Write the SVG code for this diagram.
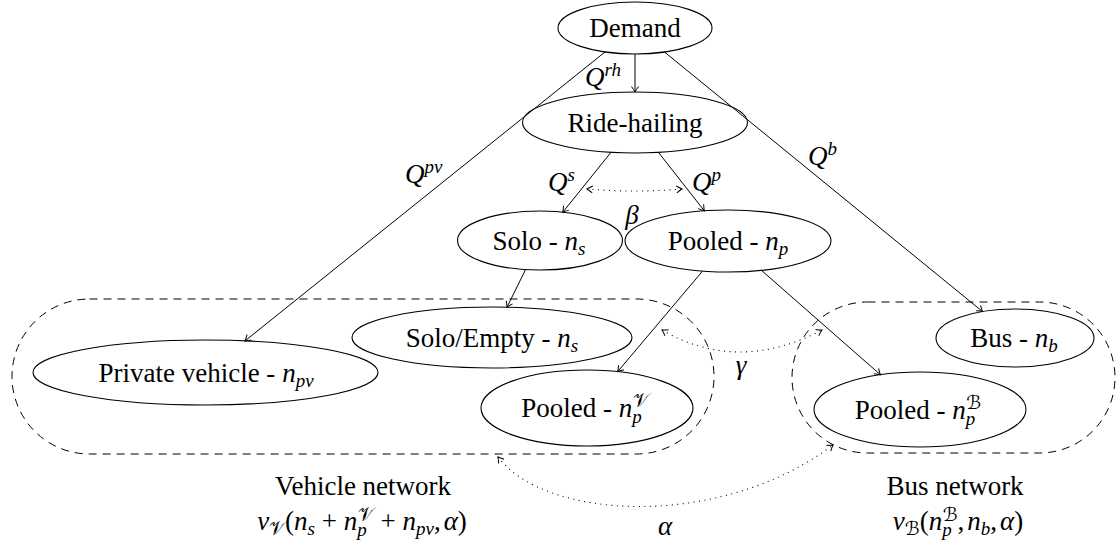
<svg xmlns="http://www.w3.org/2000/svg" width="1119" height="546" viewBox="0 0 1119 546">
<style>
text { font-family: "Liberation Serif", "Times New Roman", serif; font-size: 27px; fill: #000; }
.i { font-style: italic; }
.s { font-size: 19px; }
.cal { font-family: "DejaVu Serif", "DejaVu Sans", "Noto Sans", serif; font-style: normal; }
.node { fill: none; stroke: #000; stroke-width: 1.1; }
.edge { fill: none; stroke: #000; stroke-width: 1; marker-end: url(#arr); }
.dot { fill: none; stroke: #000; stroke-width: 1.1; stroke-dasharray: 1 4.5; marker-start: url(#arr); marker-end: url(#arr); }
.region { fill: none; stroke: #000; stroke-width: 1; stroke-dasharray: 8 6; }
.tip { fill: none; stroke: #000; stroke-width: 1; stroke-dasharray: none; }
</style>
<defs>
<marker id="arr" markerUnits="userSpaceOnUse" markerWidth="8" markerHeight="12" viewBox="-7 -6 8 12" refX="0" refY="0" orient="auto-start-reverse">
<path class="tip" d="M-5.5,-3.5 Q-2,-1 0,0 Q-2,1 -5.5,3.5"/>
</marker>
</defs>

<g id="vehicle-network">
<rect class="region" x="12" y="299" width="702" height="155" rx="77.5" ry="77.5"/>
<text x="363" y="495" text-anchor="middle">Vehicle network</text>
<text x="362" y="530" text-anchor="middle"><tspan class="i">v</tspan><tspan class="s cal" dy="5">𝒱</tspan><tspan dy="-5">(</tspan><tspan class="i">n</tspan><tspan class="i s" dy="5">s</tspan><tspan dy="-5"> + </tspan><tspan class="i">n</tspan><tspan class="i s" dy="6">p</tspan><tspan class="s cal" dx="-9" dy="-15">𝒱</tspan><tspan dy="9"> + </tspan><tspan class="i">n</tspan><tspan class="i s" dy="5">pv</tspan><tspan dy="-5">,</tspan><tspan class="i" dx="3">α</tspan><tspan>)</tspan></text>
</g>

<g id="bus-network">
<rect class="region" x="792" y="302" width="323" height="151" rx="75.5" ry="75.5"/>
<text x="955" y="495" text-anchor="middle">Bus network</text>
<text x="958" y="530" text-anchor="middle"><tspan class="i">v</tspan><tspan class="s cal" dy="5">ℬ</tspan><tspan dy="-5">(</tspan><tspan class="i">n</tspan><tspan class="i s" dy="6">p</tspan><tspan class="s cal" dx="-9" dy="-15">ℬ</tspan><tspan dy="9">,</tspan><tspan class="i" dx="3">n</tspan><tspan class="i s" dy="5">b</tspan><tspan dy="-5">,</tspan><tspan class="i" dx="3">α</tspan><tspan>)</tspan></text>
</g>

<g id="connectors">
<path class="edge" d="M635,54 L635,92"/>
<path class="edge" d="M605,52 L245,340.9"/>
<path class="edge" d="M664.5,52 L982.6,311.6"/>
<path class="edge" d="M611,152.3 L562.8,212.2"/>
<path class="edge" d="M658.4,152.3 L704.3,210.8"/>
<path class="edge" d="M525.6,269.5 L507,307.2"/>
<path class="edge" d="M702.6,271 L617.7,371.6"/>
<path class="edge" d="M761.4,270.3 L880.4,374.7"/>
<path class="dot" d="M587,189 Q634.5,193 682,189"/>
<path class="dot" d="M662,330 Q738,374 822,330"/>
<path class="dot" d="M498,457 C545,520 720,530 833,445"/>
<text x="585" y="86"><tspan class="i">Q</tspan><tspan class="i s" dy="-10">rh</tspan></text>
<text x="405" y="183"><tspan class="i">Q</tspan><tspan class="i s" dy="-10">pv</tspan></text>
<text x="808" y="165"><tspan class="i">Q</tspan><tspan class="i s" dy="-10">b</tspan></text>
<text x="548" y="191"><tspan class="i">Q</tspan><tspan class="i s" dy="-10">s</tspan></text>
<text x="692" y="191"><tspan class="i">Q</tspan><tspan class="i s" dy="-10">p</tspan></text>
<text x="632" y="224" text-anchor="middle" class="i">β</text>
<text x="741" y="374" text-anchor="middle" class="i">γ</text>
<text x="665" y="535" text-anchor="middle" class="i">α</text>
</g>

<g id="demand">
<ellipse class="node" cx="635" cy="28" rx="77" ry="26"/>
<text x="635" y="37" text-anchor="middle">Demand</text>
</g>
<g id="ride-hailing">
<ellipse class="node" cx="635" cy="122.5" rx="112.5" ry="30.5"/>
<text x="635" y="131.5" text-anchor="middle">Ride-hailing</text>
</g>
<g id="solo">
<ellipse class="node" cx="540" cy="240.5" rx="82.5" ry="29.5"/>
<text x="539" y="249.5" text-anchor="middle">Solo - <tspan class="i">n</tspan><tspan class="i s" dy="5">s</tspan></text>
</g>
<g id="pooled">
<ellipse class="node" cx="728" cy="241" rx="103" ry="31"/>
<text x="728" y="250" text-anchor="middle">Pooled - <tspan class="i">n</tspan><tspan class="i s" dy="5">p</tspan></text>
</g>
<g id="solo-empty">
<ellipse class="node" cx="492" cy="337.5" rx="140" ry="30.5"/>
<text x="492" y="346.5" text-anchor="middle">Solo/Empty - <tspan class="i">n</tspan><tspan class="i s" dy="5">s</tspan></text>
</g>
<g id="private-vehicle">
<ellipse class="node" cx="205.5" cy="372.5" rx="172.5" ry="32.5"/>
<text x="206" y="381.5" text-anchor="middle">Private vehicle - <tspan class="i">n</tspan><tspan class="i s" dy="5">pv</tspan></text>
</g>
<g id="pooled-vehicle">
<ellipse class="node" cx="587" cy="408" rx="106" ry="38"/>
<text x="585" y="417" text-anchor="middle">Pooled - <tspan class="i">n</tspan><tspan class="i s" dy="6">p</tspan><tspan class="s cal" dx="-9" dy="-16">𝒱</tspan></text>
</g>
<g id="bus">
<ellipse class="node" cx="1015" cy="338" rx="79" ry="29"/>
<text x="1014" y="347" text-anchor="middle">Bus - <tspan class="i">n</tspan><tspan class="i s" dy="5">b</tspan></text>
</g>
<g id="pooled-bus">
<ellipse class="node" cx="920" cy="409.5" rx="106" ry="37.5"/>
<text x="918" y="418.5" text-anchor="middle">Pooled - <tspan class="i">n</tspan><tspan class="i s" dy="6">p</tspan><tspan class="s cal" dx="-9" dy="-16">ℬ</tspan></text>
</g>
</svg>
